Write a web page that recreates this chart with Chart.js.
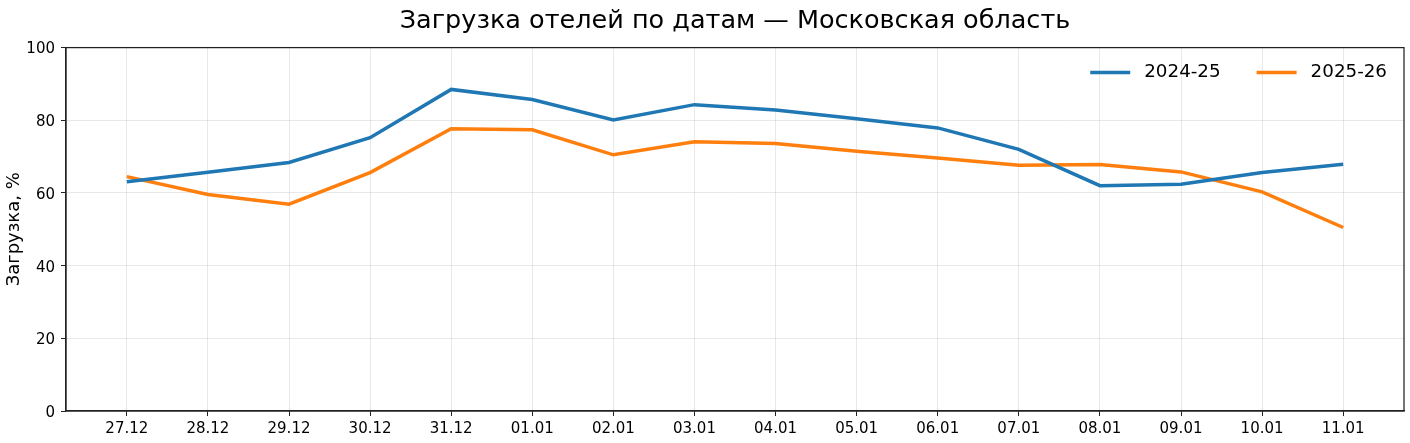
<!DOCTYPE html>
<html><head><meta charset="utf-8">
<script src="https://cdn.jsdelivr.net/npm/chart.js@4.4.1/dist/chart.umd.min.js"></script>
<style>html,body{margin:0;padding:0;background:#fff}#wrap{width:1410px;height:443px}</style>
</head><body><div id="wrap"><canvas id="c" width="1410" height="443"></canvas></div>
<script>
const categories = ['27.12','28.12','29.12','30.12','31.12','01.01','02.01','03.01','04.01','05.01','06.01','07.01','08.01','09.01','10.01','11.01'];
const series2425 = [63.1,65.7,68.4,75.2,88.5,85.7,80.1,84.3,82.8,80.4,77.9,72.0,62.0,62.4,65.6,67.9];
const series2526 = [64.5,59.6,56.9,65.6,77.7,77.4,70.5,74.1,73.6,71.5,69.6,67.6,67.8,65.8,60.3,50.5];
const yTicks = [0,20,40,60,80,100];
const FONT = "'DejaVu Sans', sans-serif";

const frame = {
  id:'frame',
  afterDraw(chart){
    const a = chart.chartArea, ctx = chart.ctx;
    ctx.save(); ctx.strokeStyle='#222'; ctx.lineWidth=1.25;
    ctx.strokeRect(a.left, a.top, a.right-a.left, a.bottom-a.top);
    // legend inside plot, upper right
    ctx.font = "18.3px " + FONT;
    ctx.textBaseline = 'middle';
    const y = a.top + 25;
    let x = a.right - 17;
    const items = chart.data.datasets.slice().reverse();
    items.forEach((ds, k) => {
      const w = ctx.measureText(ds.label).width;
      x -= w;
      ctx.fillStyle = '#000';
      ctx.fillText(ds.label, x, y);
      x -= 14;
      ctx.strokeStyle = ds.borderColor; ctx.lineWidth = 3.5;
      ctx.beginPath(); ctx.moveTo(x - 40, y); ctx.lineTo(x, y); ctx.stroke();
      x -= 40 + 36;
    });
    ctx.restore();
  }
};

new Chart(document.getElementById('c'), {
  type:'line',
  data:{ datasets:[
    {label:'2024-25', data:series2425.map((v,i)=>({x:i,y:v})), borderColor:'#1f77b4', backgroundColor:'#1f77b4', borderWidth:3.5, pointRadius:0, tension:0},
    {label:'2025-26', data:series2526.map((v,i)=>({x:i,y:v})), borderColor:'#ff7f0e', backgroundColor:'#ff7f0e', borderWidth:3.5, pointRadius:0, tension:0}
  ]},
  options:{
    responsive:false, animation:false,
    layout:{padding:{left:0,right:6,top:0,bottom:0}},
    plugins:{
      title:{display:true, text:'Загрузка отелей по датам — Московская область', color:'#000',
        font:{family:FONT, size:25.5, weight:'normal'}, padding:{top:6,bottom:11}, fullSize:false},
      legend:{display:false},
      tooltip:{enabled:false}
    },
    scales:{
      x:{type:'linear', min:-0.75, max:15.75,
        afterBuildTicks(s){ s.ticks = categories.map((c,i)=>({value:i})); },
        afterFit(s){ s.height = 32; },
        ticks:{color:'#000', font:{family:FONT, size:15}, padding:4, maxRotation:0, autoSkip:false,
          callback:(v)=>categories[v]},
        grid:{color:'rgba(0,0,0,0.09)', tickColor:'#222', tickLength:5, drawTicks:true},
        border:{color:'#222', width:1.25}
      },
      y:{min:0, max:100,
        afterBuildTicks(s){ s.ticks = yTicks.map(v=>({value:v})); },
        afterFit(s){ s.width = 66; },
        ticks:{color:'#000', font:{family:FONT, size:15}, padding:6, labelOffset:2},
        grid:{color:'rgba(0,0,0,0.09)', tickColor:'#222', tickLength:5},
        border:{color:'#222', width:1.25},
        title:{display:true, text:'Загрузка, %', color:'#000', font:{family:FONT, size:18}, padding:{top:4,bottom:0}}
      }
    }
  },
  plugins:[frame]
});
</script></body></html>
